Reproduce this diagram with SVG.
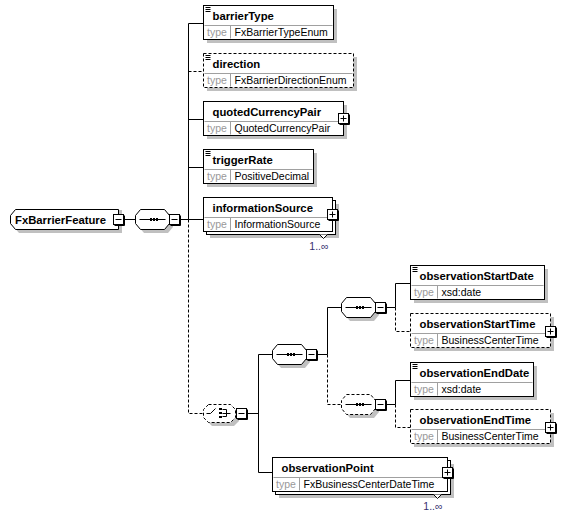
<svg xmlns="http://www.w3.org/2000/svg" xmlns:xlink="http://www.w3.org/1999/xlink" width="565" height="518" viewBox="0 0 565 518">
<defs>
<style>
.bx{fill:#fff;stroke:#000;stroke-width:1}
.dsh{stroke-dasharray:3,2}
.sh{fill:#c0c0c0;stroke:none}
.sep{stroke:#a0a0a0;stroke-width:1;fill:none}
.ln{stroke:#000;stroke-width:1;fill:none}
.nm{font-family:"Liberation Sans",Arial,sans-serif;font-weight:bold;font-size:11.3px;fill:#000}
.tl{font-family:"Liberation Sans",Arial,sans-serif;font-size:10.5px;fill:#999}
.tv{font-family:"Liberation Sans",Arial,sans-serif;font-size:10.5px;fill:#000}
.oc{font-family:"Liberation Sans",Arial,sans-serif;font-size:10.5px;fill:#34306e}
</style>
<g id="mn"><path class="ln" d="M11,1V11H1"/><rect class="bx" x="0" y="0" width="10" height="10"/><path class="ln" d="M2,5H8"/></g>
<g id="pl"><path class="ln" d="M11,1V11H1"/><rect class="bx" x="0" y="0" width="10" height="10"/><path class="ln" d="M2,5H8M5,2V8"/></g>
<path id="ic" class="ln" d="M2,2H7M2,4H7M2,6H7"/>
<path id="sq" d="M5,-10H29L34,-4V4L29,10H5L0,4V-4Z"/>
<path id="ch" d="M5,-9H27L32,-4V4L27,9H5L0,4V-4Z"/>
<g id="dots"><path class="ln" d="M4,0H30"/><rect x="14.5" y="-1.5" width="2" height="3" fill="#000"/><rect x="17.5" y="-1.5" width="2" height="3" fill="#000"/><rect x="20.5" y="-1.5" width="2" height="3" fill="#000"/></g>
</defs>

<g id="connectors" class="ln">
<path d="M123.5,219.5H135.5"/>
<path d="M179.5,219.5H188.5"/>
<path d="M188.5,23.5V219.5"/>
<path class="dsh" d="M188.5,219.5V413.5H203.5"/>
<path d="M188.5,23.5H203.5"/>
<path class="dsh" d="M188.5,71.5H203.5"/>
<path d="M188.5,119.5H203.5"/>
<path d="M188.5,167.5H203.5"/>
<path d="M188.5,219.5H203.5"/>
<path d="M246.5,413.5H258.5"/>
<path d="M258.5,354.5V472.5"/>
<path d="M258.5,354.5H272.5"/>
<path d="M258.5,472.5H272.5"/>
<path d="M316.5,354.5H327.5"/>
<path d="M327.5,307.5V354.5"/>
<path class="dsh" d="M327.5,354.5V404.5H341.5"/>
<path d="M327.5,307.5H341.5"/>
<path d="M385.5,307.5H395.5"/>
<path d="M395.5,283.5V307.5"/>
<path class="dsh" d="M395.5,307.5V331.5H410.5"/>
<path d="M395.5,283.5H410.5"/>
<path d="M385.5,404.5H395.5"/>
<path d="M395.5,380.5V404.5"/>
<path class="dsh" d="M395.5,404.5V427.5H410.5"/>
<path d="M395.5,380.5H410.5"/>
</g>

<g id="FxBarrierFeature">
<path class="sh" d="M14,216L19,210H122V233H19L14,227Z"/>
<path class="bx" d="M10.5,215.5L15.5,209.5H118.5V229.5H15.5L10.5,223.5Z"/>
<text class="nm" x="15" y="223.5">FxBarrierFeature</text>
<use xlink:href="#mn" href="#mn" transform="translate(113.5,214.5)"/>
</g>

<g id="seq_main" transform="translate(135.5,219.5)">
<use xlink:href="#sq" href="#sq" class="sh" transform="translate(3.5,3.5)"/>
<use xlink:href="#sq" href="#sq" class="bx"/>
<use xlink:href="#dots" href="#dots"/>
<use xlink:href="#mn" href="#mn" x="34" y="-5"/>
</g>

<g id="barrierType" transform="translate(203.5,5.5)">
<rect class="sh" x="3.5" y="3.5" width="130" height="34"/>
<rect class="bx" width="130" height="34"/>
<path class="sep" d="M1,20H129M27,20V33"/>
<use xlink:href="#ic" href="#ic"/>
<text class="nm" x="9" y="14.5">barrierType</text>
<text class="tl" x="3.5" y="30.5">type</text>
<text class="tv" x="31" y="30.5">FxBarrierTypeEnum</text>
</g>

<g id="direction" transform="translate(203.5,53.5)">
<rect class="sh" x="3.5" y="3.5" width="150" height="34"/>
<rect class="bx dsh" width="150" height="34"/>
<path class="sep" d="M1,20H149M27,20V33"/>
<use xlink:href="#ic" href="#ic"/>
<text class="nm" x="9" y="14.5">direction</text>
<text class="tl" x="3.5" y="30.5">type</text>
<text class="tv" x="31" y="30.5">FxBarrierDirectionEnum</text>
</g>

<g id="quotedCurrencyPair" transform="translate(203.5,101.5)">
<rect class="sh" x="3.5" y="3.5" width="140" height="34"/>
<rect class="bx" width="140" height="34"/>
<path class="sep" d="M1,20H139M27,20V33"/>
<text class="nm" x="9" y="14.5">quotedCurrencyPair</text>
<text class="tl" x="3.5" y="30.5">type</text>
<text class="tv" x="31" y="30.5">QuotedCurrencyPair</text>
<use xlink:href="#pl" href="#pl" x="135" y="12"/>
</g>

<g id="triggerRate" transform="translate(203.5,149.5)">
<rect class="sh" x="3.5" y="3.5" width="110" height="34"/>
<rect class="bx" width="110" height="34"/>
<path class="sep" d="M1,20H109M27,20V33"/>
<use xlink:href="#ic" href="#ic"/>
<text class="nm" x="9" y="14.5">triggerRate</text>
<text class="tl" x="3.5" y="30.5">type</text>
<text class="tv" x="31" y="30.5">PositiveDecimal</text>
</g>

<g id="informationSource" transform="translate(203.5,197.5)">
<rect class="sh" x="6.5" y="6.5" width="129" height="34"/>
<rect class="bx" x="3" y="3" width="129" height="34"/>
<rect class="bx" width="129" height="34"/>
<path class="sep" d="M1,20H128M27,20V33"/>
<text class="nm" x="9" y="14.5">informationSource</text>
<text class="tl" x="3.5" y="30.5">type</text>
<text class="tv" x="31" y="30.5">InformationSource</text>
<use xlink:href="#pl" href="#pl" x="124" y="12"/>
<path class="bx" d="M116,37L120,41L124,37"/>
<text class="oc" x="125" y="52" text-anchor="end">1..∞</text>
</g>

<g id="choice" transform="translate(203.5,413.5)">
<use xlink:href="#ch" href="#ch" class="sh" transform="translate(3.5,3.5)"/>
<use xlink:href="#ch" href="#ch" class="bx dsh"/>
<path class="ln" d="M3,0H7L12,-5"/>
<rect x="15.5" y="-5.5" width="3" height="2" fill="#000"/>
<rect x="15.5" y="-1.5" width="3" height="2" fill="#000"/>
<rect x="15.5" y="2.5" width="3" height="2" fill="#000"/>
<path class="ln" d="M19,-4H23V3H19M19,0H27"/>
<use xlink:href="#mn" href="#mn" x="33" y="-5"/>
</g>

<g id="seq_1" transform="translate(272.5,354.5)">
<use xlink:href="#sq" href="#sq" class="sh" transform="translate(3.5,3.5)"/>
<use xlink:href="#sq" href="#sq" class="bx"/>
<use xlink:href="#dots" href="#dots"/>
<use xlink:href="#mn" href="#mn" x="34" y="-5"/>
</g>

<g id="seq_2" transform="translate(341.5,307.5)">
<use xlink:href="#sq" href="#sq" class="sh" transform="translate(3.5,3.5)"/>
<use xlink:href="#sq" href="#sq" class="bx"/>
<use xlink:href="#dots" href="#dots"/>
<use xlink:href="#mn" href="#mn" x="34" y="-5"/>
</g>

<g id="seq_3" transform="translate(341.5,404.5)">
<use xlink:href="#sq" href="#sq" class="sh" transform="translate(3.5,3.5)"/>
<use xlink:href="#sq" href="#sq" class="bx dsh"/>
<use xlink:href="#dots" href="#dots"/>
<use xlink:href="#mn" href="#mn" x="34" y="-5"/>
</g>

<g id="observationStartDate" transform="translate(410.5,265.5)">
<rect class="sh" x="3.5" y="3.5" width="134" height="34"/>
<rect class="bx" width="134" height="34"/>
<path class="sep" d="M1,20H133M27,20V33"/>
<use xlink:href="#ic" href="#ic"/>
<text class="nm" x="9" y="14.5">observationStartDate</text>
<text class="tl" x="3.5" y="30.5">type</text>
<text class="tv" x="31" y="30.5">xsd:date</text>
</g>

<g id="observationStartTime" transform="translate(410.5,313.5)">
<rect class="sh" x="3.5" y="3.5" width="140" height="34"/>
<rect class="bx dsh" width="140" height="34"/>
<path class="sep" d="M1,20H139M27,20V33"/>
<text class="nm" x="9" y="14.5">observationStartTime</text>
<text class="tl" x="3.5" y="30.5">type</text>
<text class="tv" x="31" y="30.5">BusinessCenterTime</text>
<use xlink:href="#pl" href="#pl" x="135" y="13"/>
</g>

<g id="observationEndDate" transform="translate(410.5,362.5)">
<rect class="sh" x="3.5" y="3.5" width="123" height="34"/>
<rect class="bx" width="123" height="34"/>
<path class="sep" d="M1,20H122M27,20V33"/>
<use xlink:href="#ic" href="#ic"/>
<text class="nm" x="9" y="14.5">observationEndDate</text>
<text class="tl" x="3.5" y="30.5">type</text>
<text class="tv" x="31" y="30.5">xsd:date</text>
</g>

<g id="observationEndTime" transform="translate(410.5,409.5)">
<rect class="sh" x="3.5" y="3.5" width="140" height="34"/>
<rect class="bx dsh" width="140" height="34"/>
<path class="sep" d="M1,20H139M27,20V33"/>
<text class="nm" x="9" y="14.5">observationEndTime</text>
<text class="tl" x="3.5" y="30.5">type</text>
<text class="tv" x="31" y="30.5">BusinessCenterTime</text>
<use xlink:href="#pl" href="#pl" x="135" y="13"/>
</g>

<g id="observationPoint" transform="translate(272.5,457.5)">
<rect class="sh" x="6.5" y="6.5" width="175" height="34"/>
<rect class="bx" x="3" y="3" width="175" height="34"/>
<rect class="bx" width="175" height="34"/>
<path class="sep" d="M1,20H174M27,20V33"/>
<text class="nm" x="9" y="14.5">observationPoint</text>
<text class="tl" x="3.5" y="30.5">type</text>
<text class="tv" x="31" y="30.5">FxBusinessCenterDateTime</text>
<use xlink:href="#pl" href="#pl" x="170" y="10"/>
<path class="bx" d="M161,37L165,41L169,37"/>
<text class="oc" x="170" y="52" text-anchor="end">1..∞</text>
</g>
</svg>
